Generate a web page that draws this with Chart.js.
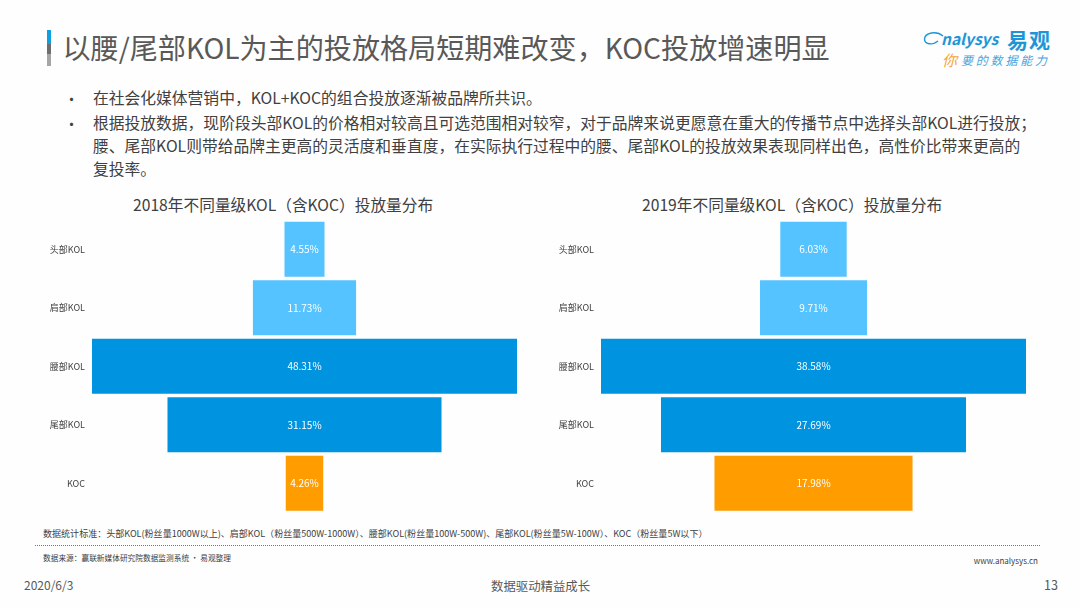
<!DOCTYPE html>
<html lang="zh-CN">
<head>
<meta charset="utf-8">
<title>KOL投放量分布</title>
<script src="https://cdn.jsdelivr.net/npm/chart.js@4"></script>
<style>
  html, body { margin: 0; padding: 0; }
  body {
    width: 1080px; height: 608px; position: relative; overflow: hidden;
    background: #fefefe; color: #404040;
    font-family: "Noto Sans CJK SC", "Noto Sans", sans-serif;
  }
  .abs { position: absolute; white-space: nowrap; line-height: 1; }
  .chart-box { position: absolute; top: 219.5px; width: 477px; height: 292.5px; }
  #titleBar {
    position: absolute; left: 47px; top: 30px; width: 4px; height: 36px;
    background: linear-gradient(#0f9ee0 0 40%, #6e6e6e 40% 68%, #a5a5a5 68% 100%);
  }
  #pageTitle { left: 62.5px; top: 33px; font-size: 28.1px; color: #595959; }
  .body-text { font-size: 15.77px; color: #404040; }
  .bullet { font-size: 15px; left: 64px; }
  .chart-title { font-size: 15.7px; color: #404040; }
  .note { font-size: 9.04px; color: #404040; }
  #dots { position: absolute; left: 35px; top: 545px; width: 1005px; border-top: 1px dotted #777; }
  #logoMain { left: 941px; top: 31px; font-size: 15.5px; font-weight: 700; font-style: italic; color: #1d96d8; }
  #logoCn { left: 1007px; top: 29px; font-size: 21px; font-weight: 700; color: #1d96d8; letter-spacing: 1px; }
  #logoSubA { left: 942px; top: 52px; font-size: 15px; font-style: italic; color: #f5a33c; }
  #logoSubB { left: 961px; top: 54px; font-size: 12px; font-style: italic; color: #4aa5dc; letter-spacing: 2.8px; }
  #logoArc { position: absolute; left: 923px; top: 29px; }
</style>
</head>
<body>
<div id="titleBar"></div>
<div class="abs" id="pageTitle">以腰/尾部KOL为主的投放格局短期难改变，KOC投放增速明显</div>

<svg id="logoArc" width="22" height="22" viewBox="0 0 22 22">
  <path d="M20 7 C13 1 2 4 1.5 10 C1.5 15 9 17 15 12" fill="none" stroke="#1d96d8" stroke-width="1.4"/>
</svg>
<div class="abs" id="logoMain">nalysys</div>
<div class="abs" id="logoCn">易观</div>
<div class="abs" id="logoSubA">你</div>
<div class="abs" id="logoSubB">要的数据能力</div>

<div class="abs bullet" style="top:91px">•</div>
<div class="abs body-text" style="left:93px;top:90px">在社会化媒体营销中，KOL+KOC的组合投放逐渐被品牌所共识。</div>
<div class="abs bullet" style="top:116px">•</div>
<div class="abs body-text" style="left:93px;top:115px">根据投放数据，现阶段头部KOL的价格相对较高且可选范围相对较窄，对于品牌来说更愿意在重大的传播节点中选择头部KOL进行投放；</div>
<div class="abs body-text" style="left:93px;top:138px">腰、尾部KOL则带给品牌主更高的灵活度和垂直度，在实际执行过程中的腰、尾部KOL的投放效果表现同样出色，高性价比带来更高的</div>
<div class="abs body-text" style="left:93px;top:161px">复投率。</div>

<div class="abs chart-title" style="left:133px;top:197px">2018年不同量级KOL（含KOC）投放量分布</div>
<div class="abs chart-title" style="left:642px;top:197px">2019年不同量级KOL（含KOC）投放量分布</div>

<div class="chart-box" style="left:40px"><canvas id="chart2018"></canvas></div>
<div class="chart-box" style="left:549px"><canvas id="chart2019"></canvas></div>

<div class="abs note" style="left:43px;top:529px">数据统计标准：头部KOL(粉丝量1000W以上)、肩部KOL（粉丝量500W-1000W）、腰部KOL(粉丝量100W-500W)、尾部KOL(粉丝量5W-100W）、KOC（粉丝量5W以下）</div>
<div id="dots"></div>
<div class="abs note" style="left:43px;top:554px;font-size:7.7px">数据来源：赢联新媒体研究院数据监测系统 · 易观整理</div>
<div class="abs note" style="right:42px;top:557px;font-size:8px">www.analysys.cn</div>

<div class="abs" style="left:24px;top:579px;font-size:12px;color:#595959">2020/6/3</div>
<div class="abs" style="left:491px;top:580px;font-size:12.4px;color:#595959">数据驱动精益成长</div>
<div class="abs" style="right:22px;top:579px;font-size:12.5px;color:#595959">13</div>

<script>
const categories = ["头部KOL", "肩部KOL", "腰部KOL", "尾部KOL", "KOC"];
const values2018 = [4.55, 11.73, 48.31, 31.15, 4.26];
const values2019 = [6.03, 9.71, 38.58, 27.69, 17.98];
const barColors = ["#55c3ff", "#55c3ff", "#0094e0", "#0094e0", "#ff9d00"];

// White percentage label in the middle of every bar
const centerLabels = {
  id: "centerLabels",
  afterDatasetsDraw(chart) {
    const { ctx } = chart;
    const values = chart.data.datasets[0].rawValues;
    ctx.save();
    ctx.fillStyle = "#ffffff";
    ctx.font = '10px "Noto Sans CJK SC"';
    ctx.textAlign = "center";
    ctx.textBaseline = "middle";
    chart.getDatasetMeta(0).data.forEach((bar, i) => {
      ctx.fillText(values[i].toFixed(2) + "%", chart.scales.x.getPixelForValue(0), bar.y);
    });
    ctx.restore();
  },
};

/**
 * Draw one funnel: floating bars centred on zero
 * @param {string} canvasId - Canvas element id
 * @param {Array<number>} values - Share per category
 */
function drawFunnel(canvasId, values) {
  const half = Math.max(...values) / 2;
  new Chart(document.getElementById(canvasId), {
    type: "bar",
    data: {
      labels: categories,
      datasets: [
        {
          data: values.map((v) => [-v / 2, v / 2]),
          rawValues: values,
          backgroundColor: barColors,
          borderWidth: 0,
          categoryPercentage: 1,
          barPercentage: 0.94,
        },
      ],
    },
    options: {
      indexAxis: "y",
      responsive: true,
      maintainAspectRatio: false,
      animation: false,
      layout: { padding: 0 },
      plugins: {
        legend: { display: false },
        tooltip: { enabled: false },
      },
      scales: {
        x: { display: false, min: -half, max: half },
        y: {
          afterFit(axis) {
            // fixed gutter so the bars start where the labels end; no label overhang
            axis.width = 52;
            axis.paddingTop = 0;
            axis.paddingBottom = 0;
          },
          grid: { display: false, drawTicks: false },
          border: { display: false },
          ticks: {
            color: "#404040",
            padding: 7,
            autoSkip: false,
            font: { size: 9, family: '"Noto Sans CJK SC"' },
          },
        },
      },
    },
    plugins: [centerLabels],
  });
}

drawFunnel("chart2018", values2018);
drawFunnel("chart2019", values2019);
</script>
</body>
</html>
